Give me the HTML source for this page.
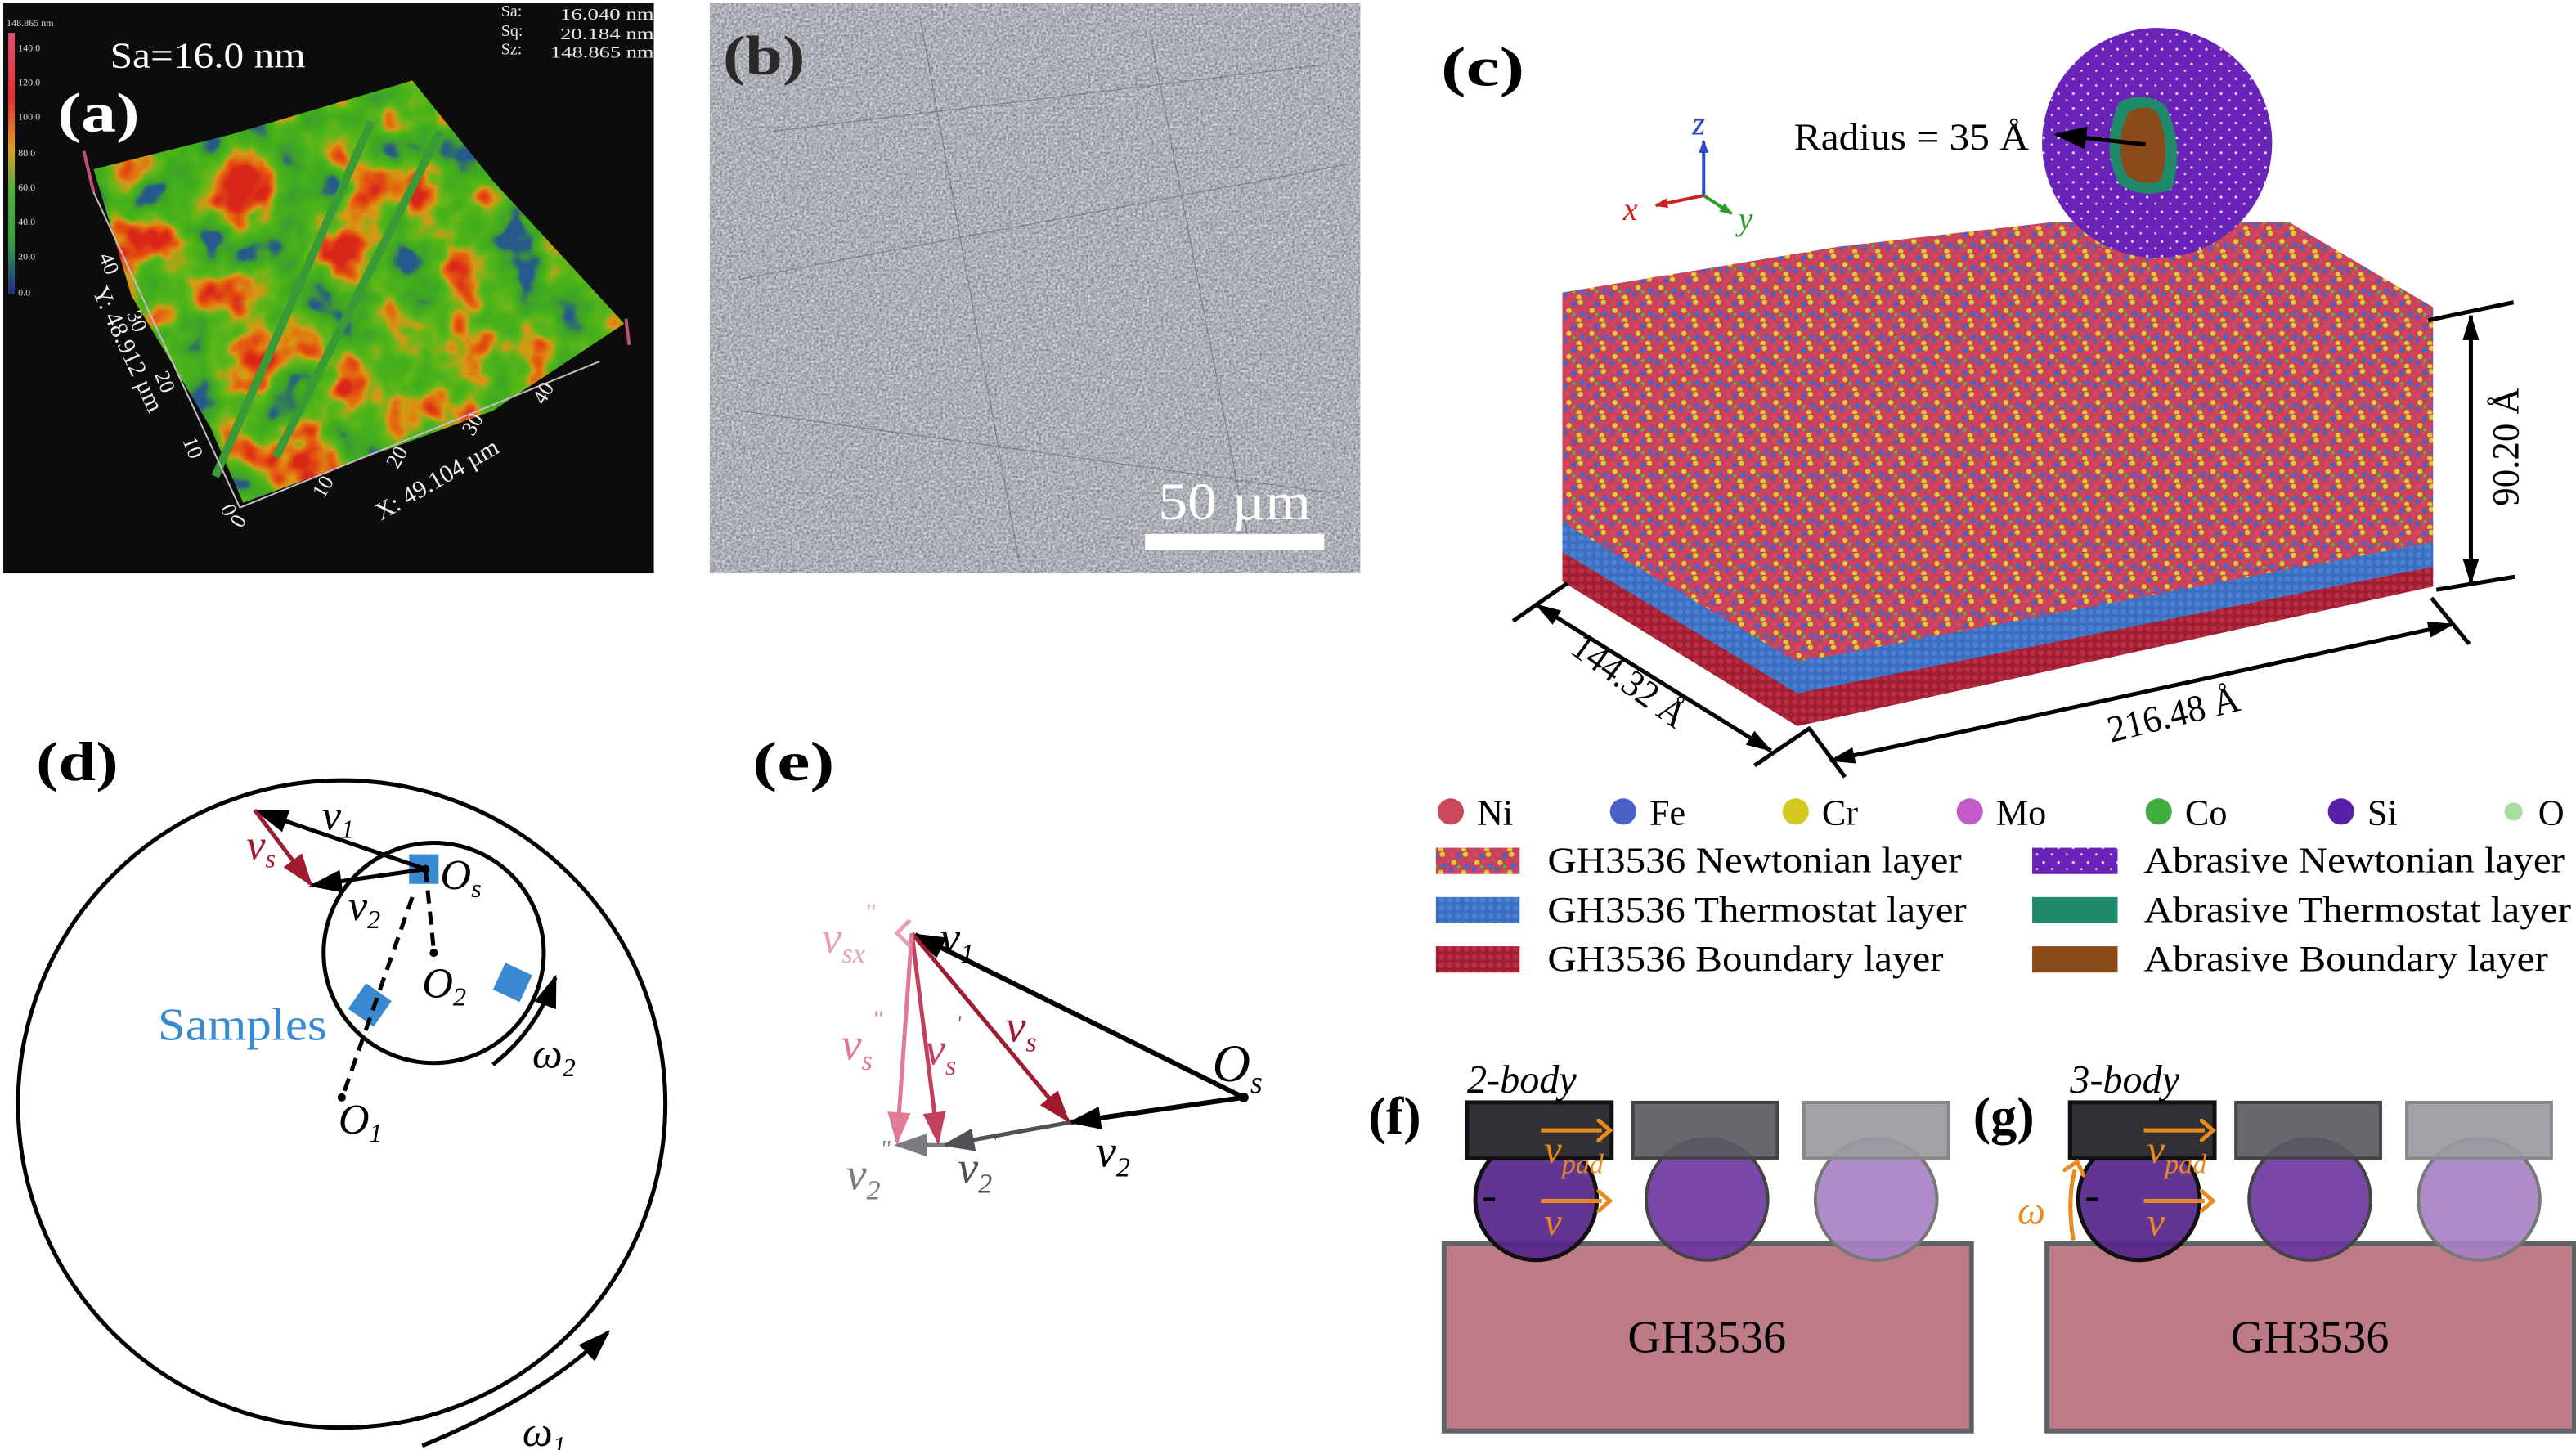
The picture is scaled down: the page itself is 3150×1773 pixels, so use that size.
<!DOCTYPE html>
<html><head><meta charset="utf-8"><style>
html,body{margin:0;padding:0;background:#fff;}
svg{display:block;}
text{font-family:"Liberation Serif",Times,"Times New Roman",serif;}
</style></head><body>
<svg width="3150" height="1773" viewBox="0 0 1568 882.6" preserveAspectRatio="none" xmlns="http://www.w3.org/2000/svg" font-family="Liberation Serif, serif">
<defs>
 <filter id="surf" x="0" y="0" width="1" height="1" color-interpolation-filters="sRGB">
  <feTurbulence type="fractalNoise" baseFrequency="0.03" numOctaves="3" seed="4" result="n"/>
  <feColorMatrix in="n" type="matrix" values="1 0 0 0 0 1 0 0 0 0 1 0 0 0 0 0 0 0 0 1" result="g"/>
  <feComponentTransfer in="g" result="g2">
   <feFuncR type="linear" slope="2.0" intercept="-0.5"/><feFuncG type="linear" slope="2.0" intercept="-0.5"/><feFuncB type="linear" slope="2.0" intercept="-0.5"/>
  </feComponentTransfer>
  <feComponentTransfer in="g2" result="c">
   <feFuncR type="table" tableValues="0.15 0.25 0.25 0.3 0.4 0.85 0.9 0.85"/>
   <feFuncG type="table" tableValues="0.35 0.62 0.68 0.7 0.72 0.6 0.35 0.15"/>
   <feFuncB type="table" tableValues="0.55 0.18 0.12 0.1 0.1 0.08 0.06 0.1"/>
  </feComponentTransfer>
  <feComposite in="c" in2="SourceGraphic" operator="in"/>
 </filter>
 <filter id="gray" x="0" y="0" width="1" height="1" color-interpolation-filters="sRGB">
  <feTurbulence type="fractalNoise" baseFrequency="0.7" numOctaves="2" seed="2" result="n"/>
  <feColorMatrix in="n" type="matrix" values="0.55 0 0 0 0.4  0.55 0 0 0 0.41  0.55 0 0 0 0.44  0 0 0 0 1" result="c"/>
  <feComposite in="c" in2="SourceGraphic" operator="in"/>
 </filter>
 <pattern id="atoms" patternUnits="userSpaceOnUse" width="14" height="14">
  <rect width="14" height="14" fill="#c8425c"/>
  <circle cx="2" cy="2" r="1.6" fill="#d24a62"/><circle cx="6" cy="3" r="1.6" fill="#4563c8"/>
  <circle cx="10" cy="2" r="1.6" fill="#d8cf34"/><circle cx="13" cy="5" r="1.6" fill="#cf4560"/>
  <circle cx="3" cy="7" r="1.6" fill="#d8cf34"/><circle cx="8" cy="7" r="1.6" fill="#cd4460"/>
  <circle cx="11" cy="9" r="1.6" fill="#4866cc"/><circle cx="1" cy="11" r="1.6" fill="#4563c8"/>
  <circle cx="5" cy="12" r="1.6" fill="#d04862"/><circle cx="9" cy="13" r="1.6" fill="#d6d035"/>
  <circle cx="13" cy="13" r="1.6" fill="#c94360"/><circle cx="6" cy="9.5" r="1.1" fill="#4cb848"/>
 </pattern>
 <pattern id="blueat" patternUnits="userSpaceOnUse" width="5" height="5">
  <rect width="5" height="5" fill="#3a6fc0"/><circle cx="2.5" cy="2.5" r="1.8" fill="#4a80d4"/>
 </pattern>
 <pattern id="redat" patternUnits="userSpaceOnUse" width="5" height="5">
  <rect width="5" height="5" fill="#9e1f34"/><circle cx="2.5" cy="2.5" r="1.8" fill="#be2c44"/>
 </pattern>
 <pattern id="purp" patternUnits="userSpaceOnUse" width="9" height="9">
  <rect width="9" height="9" fill="#6a23b8"/><circle cx="2" cy="3" r="0.8" fill="#e8e0f0"/><circle cx="7" cy="7" r="0.7" fill="#d8d0ea"/>
 </pattern>
 <marker id="ab" markerUnits="userSpaceOnUse" markerWidth="20" markerHeight="14" refX="18" refY="7" orient="auto"><path d="M0,0 L20,7 L0,14 Z" fill="#000"/></marker>
 <marker id="ar" markerUnits="userSpaceOnUse" markerWidth="20" markerHeight="14" refX="18" refY="7" orient="auto"><path d="M0,0 L20,7 L0,14 Z" fill="#a01a30"/></marker>
 <marker id="ap" markerUnits="userSpaceOnUse" markerWidth="20" markerHeight="14" refX="18" refY="7" orient="auto"><path d="M0,0 L20,7 L0,14 Z" fill="#e07a95"/></marker>
 <marker id="ap2" markerUnits="userSpaceOnUse" markerWidth="20" markerHeight="14" refX="18" refY="7" orient="auto"><path d="M0,0 L20,7 L0,14 Z" fill="#c2405e"/></marker>
 <marker id="ag" markerUnits="userSpaceOnUse" markerWidth="20" markerHeight="14" refX="18" refY="7" orient="auto"><path d="M0,0 L20,7 L0,14 Z" fill="#505055"/></marker>
 <marker id="ag2" markerUnits="userSpaceOnUse" markerWidth="20" markerHeight="14" refX="18" refY="7" orient="auto"><path d="M0,0 L20,7 L0,14 Z" fill="#7a7c82"/></marker>
 <marker id="dim" markerUnits="userSpaceOnUse" markerWidth="16" markerHeight="10" refX="15" refY="5" orient="auto-start-reverse"><path d="M0,0 L16,5 L0,10 Z" fill="#000"/></marker>
 <marker id="sm" markerUnits="userSpaceOnUse" markerWidth="8" markerHeight="6" refX="7" refY="3" orient="auto"><path d="M0,0 L8,3 L0,6 Z" fill="context-stroke"/></marker>
 <marker id="or" markerUnits="userSpaceOnUse" markerWidth="10" markerHeight="14" refX="3" refY="7" orient="auto"><path d="M0,0 L8,7 L0,14" fill="none" stroke="#e88a1c" stroke-width="2.5"/></marker>
 <linearGradient id="cbar" x1="0" y1="0" x2="0" y2="1">
  <stop offset="0" stop-color="#e05070"/><stop offset="0.25" stop-color="#e03030"/><stop offset="0.45" stop-color="#e0a020"/><stop offset="0.6" stop-color="#50b030"/><stop offset="0.8" stop-color="#30a040"/><stop offset="1" stop-color="#203090"/>
 </linearGradient>
</defs>

<!-- (a) -->
<rect x="2" y="2" width="396" height="347" fill="#0c0c0c"/>
<polygon points="57,103 140,82 251,49 300,110 380,197 300,250 148,306 128,260 80,180" fill="#fff" filter="url(#surf)"/>
<path d="M226,74 L131,290" stroke="#3a9a35" stroke-width="5"/>
<path d="M268,80 L168,278" stroke="#3a9a35" stroke-width="5"/>
<line x1="57" y1="117" x2="146" y2="309" stroke="#c8b8c8" stroke-width="1"/>
<line x1="146" y1="309" x2="365" y2="220" stroke="#c8b8c8" stroke-width="1"/>
<line x1="51" y1="92" x2="57" y2="117" stroke="#c05070" stroke-width="2"/>
<line x1="381" y1="194" x2="383" y2="210" stroke="#c05070" stroke-width="2"/>
<rect x="5" y="20" width="4" height="159" fill="url(#cbar)"/>
<g fill="#ddd" font-size="6">
<text x="4" y="16">148.865 nm</text><text x="11" y="31">140.0</text><text x="11" y="52">120.0</text><text x="11" y="73">100.0</text><text x="11" y="95">80.0</text><text x="11" y="116">60.0</text><text x="11" y="137">40.0</text><text x="11" y="158">20.0</text><text x="11" y="180">0.0</text>
</g>
<g fill="#e8e8e8" font-size="10">
<text x="305" y="10">Sa:</text><text x="341" y="12" textLength="57" lengthAdjust="spacingAndGlyphs">16.040 nm</text>
<text x="305" y="22">Sq:</text><text x="341" y="24" textLength="57" lengthAdjust="spacingAndGlyphs">20.184 nm</text>
<text x="305" y="33">Sz:</text><text x="335" y="35" textLength="63" lengthAdjust="spacingAndGlyphs">148.865 nm</text>
</g>
<text x="67" y="41" fill="#fff" font-size="22" textLength="119" lengthAdjust="spacingAndGlyphs">Sa=16.0 nm</text>
<text x="35" y="80" fill="#fff" font-size="34" font-weight="bold" textLength="50" lengthAdjust="spacingAndGlyphs">(a)</text>
<g fill="#eee" font-size="13">
<text transform="translate(60,156) rotate(68)">40</text><text transform="translate(77,191) rotate(68)">30</text><text transform="translate(94,228) rotate(68)">20</text><text transform="translate(111,268) rotate(68)">10</text><text transform="translate(134,309) rotate(68)">0</text>
<text transform="translate(56,177) rotate(65)" font-size="15">Y: 48.912 µm</text>
<text transform="translate(147,322) rotate(-60)">0</text><text transform="translate(197,304) rotate(-60)">10</text><text transform="translate(242,286) rotate(-60)">20</text><text transform="translate(288,266) rotate(-60)">30</text><text transform="translate(331,247) rotate(-60)">40</text>
<text transform="translate(232,317) rotate(-30)" font-size="15">X: 49.104 µm</text>
</g>

<!-- (b) -->
<rect x="432" y="2" width="396" height="347" fill="#fff" filter="url(#gray)"/>
<path d="M470,80 L800,40 M450,170 L820,100 M560,10 L620,340 M700,20 L760,330 M450,250 L810,300" stroke="#4a4f60" stroke-width="0.6" opacity="0.5"/>
<text x="440" y="45" fill="#2a2a2a" font-size="34" font-weight="bold" textLength="50" lengthAdjust="spacingAndGlyphs">(b)</text>
<text x="705" y="316" fill="#fff" font-size="32" textLength="93" lengthAdjust="spacingAndGlyphs">50 µm</text>
<rect x="697" y="325" width="109" height="10" fill="#fff"/>

<!-- (c) -->
<text x="877" y="52" font-size="34" font-weight="bold" textLength="51" lengthAdjust="spacingAndGlyphs">(c)</text>
<line x1="1037" y1="119" x2="1037" y2="86" stroke="#2a4bd0" stroke-width="2" marker-end="url(#sm)"/>
<line x1="1037" y1="119" x2="1008" y2="125" stroke="#d02020" stroke-width="2" marker-end="url(#sm)"/>
<line x1="1037" y1="119" x2="1054" y2="130" stroke="#2a9a2a" stroke-width="2" marker-end="url(#sm)"/>
<text x="1030" y="82" fill="#2a4bd0" font-size="20" font-style="italic">z</text>
<text x="988" y="134" fill="#d02020" font-size="20" font-style="italic">x</text>
<text x="1058" y="140" fill="#2a9a2a" font-size="20" font-style="italic">y</text>

<polygon points="951,178 1120,150 1251,135 1393,135 1481,187 1481,357 1094,441 951,353" fill="url(#atoms)"/>
<polygon points="951,318 1094,403 1481,330 1481,345 1094,422 951,336" fill="url(#blueat)"/>
<polygon points="951,336 1094,422 1481,345 1481,357 1094,442 951,354" fill="url(#redat)"/>

<circle cx="1313" cy="87" r="70" fill="url(#purp)"/>
<path d="M1290,62 Q1305,55 1318,64 Q1330,90 1322,115 Q1305,122 1290,112 Q1278,90 1290,62 Z" fill="#1f8a6a"/>
<path d="M1296,68 Q1308,62 1314,70 Q1322,92 1315,110 Q1302,114 1294,106 Q1286,88 1296,68 Z" fill="#8a4a1a"/>
<line x1="1306" y1="88" x2="1252" y2="82" stroke="#000" stroke-width="2.5" marker-end="url(#ab)"/>
<text x="1092" y="91" font-size="23" textLength="143" lengthAdjust="spacingAndGlyphs">Radius = 35 Å</text>

<!-- dims -->
<line x1="1478" y1="195" x2="1530" y2="184" stroke="#000" stroke-width="2.5"/>
<line x1="1483" y1="359" x2="1531" y2="351" stroke="#000" stroke-width="2.5"/>
<line x1="1504" y1="192" x2="1504" y2="355" stroke="#000" stroke-width="2.5" marker-start="url(#dim)" marker-end="url(#dim)"/>
<text transform="translate(1533,308) rotate(-90)" font-size="23" textLength="72" lengthAdjust="spacingAndGlyphs">90.20 Å</text>
<line x1="921" y1="378" x2="954" y2="355" stroke="#000" stroke-width="2.5"/>
<line x1="1068" y1="466" x2="1102" y2="443" stroke="#000" stroke-width="2.5"/>
<line x1="1101" y1="443" x2="1123" y2="473" stroke="#000" stroke-width="2.5"/>
<line x1="1480" y1="364" x2="1503" y2="392" stroke="#000" stroke-width="2.5"/>
<line x1="935" y1="368" x2="1078" y2="457" stroke="#000" stroke-width="2.5" marker-start="url(#dim)" marker-end="url(#dim)"/>
<line x1="1114" y1="463" x2="1493" y2="380" stroke="#000" stroke-width="2.5" marker-start="url(#dim)" marker-end="url(#dim)"/>
<text transform="translate(955,397) rotate(36)" font-size="23" textLength="80" lengthAdjust="spacingAndGlyphs">144.32 Å</text>
<text transform="translate(1285,452) rotate(-14)" font-size="23" textLength="82" lengthAdjust="spacingAndGlyphs">216.48 Å</text>

<!-- legend -->
<g font-size="22">
<circle cx="883" cy="494" r="8" fill="#c84a5a"/><text x="899" y="502">Ni</text>
<circle cx="988" cy="494" r="8" fill="#4a62c8"/><text x="1004" y="502">Fe</text>
<circle cx="1093" cy="494" r="8" fill="#d2c81e"/><text x="1109" y="502">Cr</text>
<circle cx="1199" cy="494" r="8" fill="#c25ac8"/><text x="1215" y="502">Mo</text>
<circle cx="1314" cy="494" r="8" fill="#3fae3f"/><text x="1330" y="502">Co</text>
<circle cx="1425" cy="494" r="8" fill="#5a1fa8"/><text x="1441" y="502">Si</text>
<circle cx="1530" cy="494" r="5.5" fill="#a8dca0"/><text x="1545" y="502">O</text>
<rect x="874" y="516" width="51" height="16" fill="url(#atoms)"/><text x="942" y="531" textLength="252" lengthAdjust="spacingAndGlyphs">GH3536 Newtonian layer</text>
<rect x="874" y="546" width="51" height="16" fill="url(#blueat)"/><text x="942" y="561" textLength="255" lengthAdjust="spacingAndGlyphs">GH3536 Thermostat layer</text>
<rect x="874" y="576" width="51" height="16" fill="url(#redat)"/><text x="942" y="591" textLength="241" lengthAdjust="spacingAndGlyphs">GH3536 Boundary layer</text>
<rect x="1237" y="516" width="52" height="16" fill="url(#purp)"/><text x="1305" y="531" textLength="256" lengthAdjust="spacingAndGlyphs">Abrasive Newtonian layer</text>
<rect x="1237" y="546" width="52" height="16" fill="#1f8a6a"/><text x="1305" y="561" textLength="260" lengthAdjust="spacingAndGlyphs">Abrasive Thermostat layer</text>
<rect x="1237" y="576" width="52" height="16" fill="#8a4a1a"/><text x="1305" y="591" textLength="246" lengthAdjust="spacingAndGlyphs">Abrasive Boundary layer</text>
</g>

<!-- (d) -->
<text x="22" y="475" font-size="34" font-weight="bold" textLength="50" lengthAdjust="spacingAndGlyphs">(d)</text>
<circle cx="208" cy="672" r="197" fill="none" stroke="#000" stroke-width="2.5"/>
<circle cx="264" cy="580" r="67" fill="none" stroke="#000" stroke-width="2.5"/>
<rect x="249" y="520" width="18" height="18" fill="#3a8ad2"/>
<rect x="216" y="602" width="19" height="19" fill="#3a8ad2" transform="rotate(35 225 611)"/>
<rect x="303" y="589" width="18" height="18" fill="#3a8ad2" transform="rotate(25 312 598)"/>
<line x1="259" y1="529" x2="264" y2="578" stroke="#000" stroke-width="2.5" stroke-dasharray="8,5"/>
<line x1="251" y1="546" x2="209" y2="666" stroke="#000" stroke-width="2.5" stroke-dasharray="8,5"/>
<circle cx="259" cy="529" r="2.5"/><circle cx="264" cy="580" r="2.5"/><circle cx="208" cy="668" r="2.5"/>
<line x1="259" y1="529" x2="157" y2="494" stroke="#000" stroke-width="2.5" marker-end="url(#ab)"/>
<line x1="259" y1="529" x2="190" y2="539" stroke="#000" stroke-width="2.5" marker-end="url(#ab)"/>
<line x1="155" y1="493" x2="189" y2="538" stroke="#a01a30" stroke-width="2.5" marker-end="url(#ar)"/>
<g font-size="26" font-style="italic">
<text x="196" y="505">v<tspan font-size="16" dy="5">1</tspan></text>
<text x="212" y="560">v<tspan font-size="16" dy="5">2</tspan></text>
<text x="150" y="523" fill="#a01a30">v<tspan font-size="16" dy="5">s</tspan></text>
<text x="268" y="541">O<tspan font-size="16" dy="5">s</tspan></text>
<text x="257" y="607">O<tspan font-size="16" dy="5">2</tspan></text>
<text x="206" y="690">O<tspan font-size="16" dy="5">1</tspan></text>
<text x="324" y="650">ω<tspan font-size="16" dy="5">2</tspan></text>
<text x="318" y="880">ω<tspan font-size="16" dy="5">1</tspan></text>
</g>
<text x="96" y="633" font-size="28" fill="#3a8ad2" textLength="103" lengthAdjust="spacingAndGlyphs">Samples</text>
<path d="M300,648 Q326,628 338,595" fill="none" stroke="#000" stroke-width="2.5" marker-end="url(#ab)"/>
<path d="M257,880 Q330,850 370,811" fill="none" stroke="#000" stroke-width="2.5" marker-end="url(#ab)"/>

<!-- (e) -->
<text x="458" y="475" font-size="34" font-weight="bold" textLength="50" lengthAdjust="spacingAndGlyphs">(e)</text>
<line x1="757" y1="668" x2="557" y2="569" stroke="#000" stroke-width="3" marker-end="url(#ab)"/>
<line x1="757" y1="668" x2="652" y2="683" stroke="#000" stroke-width="3" marker-end="url(#ab)"/>
<circle cx="757" cy="668" r="3"/>
<line x1="652" y1="683" x2="575" y2="697" stroke="#505055" stroke-width="2.5" marker-end="url(#ag)"/>
<line x1="575" y1="697" x2="546" y2="697" stroke="#7a7c82" stroke-width="2.5" marker-end="url(#ag2)"/>
<line x1="555" y1="568" x2="650" y2="682" stroke="#a01a30" stroke-width="2.5" marker-end="url(#ar)"/>
<line x1="555" y1="568" x2="571" y2="695" stroke="#c2405e" stroke-width="2.5" marker-end="url(#ap2)"/>
<line x1="555" y1="568" x2="546" y2="695" stroke="#e07a95" stroke-width="2.5" marker-end="url(#ap)"/>
<path d="M554,560 L546,568 L554,576" fill="none" stroke="#eaa0b4" stroke-width="2.5"/>
<g font-size="28" font-style="italic">
<text x="572" y="580">v<tspan font-size="17" dy="6">1</tspan></text>
<text x="612" y="634" fill="#a01a30">v<tspan font-size="17" dy="6">s</tspan></text>
<text x="563" y="648" fill="#c2405e">v<tspan font-size="17" dy="6">s</tspan><tspan font-size="14" dy="-26">'</tspan></text>
<text x="512" y="645" fill="#e07a95">v<tspan font-size="17" dy="6">s</tspan><tspan font-size="14" dy="-26">''</tspan></text>
<text x="500" y="580" fill="#eaa0b4">v<tspan font-size="17" dy="6">sx</tspan><tspan font-size="14" dy="-26">''</tspan></text>
<text x="738" y="658" font-size="32">O<tspan font-size="19" dy="7">s</tspan></text>
<text x="667" y="710">v<tspan font-size="17" dy="6">2</tspan></text>
<text x="583" y="720" fill="#505055">v<tspan font-size="17" dy="6">2</tspan><tspan font-size="14" dy="-26">'</tspan></text>
<text x="515" y="724" fill="#7a7c82">v<tspan font-size="17" dy="6">2</tspan><tspan font-size="14" dy="-26">''</tspan></text>
</g>

<!-- (f) & (g) -->
<g id="fg">
<rect x="879" y="757" width="321" height="114" fill="#bd7b88" stroke="#5f6368" stroke-width="3"/>
<circle cx="935" cy="730" r="37" fill="#55248a" fill-opacity="0.92" stroke="#111" stroke-width="2.5"/>
<circle cx="1039" cy="730" r="37" fill="#6a34a0" fill-opacity="0.9" stroke="#444" stroke-width="2"/>
<circle cx="1142" cy="730" r="37" fill="#a580c4" fill-opacity="0.9" stroke="#777" stroke-width="2"/>
<rect x="893" y="671" width="88" height="34" fill="#303035" stroke="#111" stroke-width="2.5"/>
<rect x="994" y="671" width="88" height="34" fill="#5a5b62" fill-opacity="0.92" stroke="#444" stroke-width="2"/>
<rect x="1098" y="671" width="88" height="34" fill="#9a9ba0" fill-opacity="0.92" stroke="#888" stroke-width="2"/>
<line x1="903" y1="730" x2="910" y2="730" stroke="#000" stroke-width="2"/>
<line x1="938" y1="688" x2="975" y2="688" stroke="#e88a1c" stroke-width="2.5" marker-end="url(#or)"/>
<line x1="938" y1="731" x2="975" y2="731" stroke="#e88a1c" stroke-width="2.5" marker-end="url(#or)"/>
<text x="940" y="708" fill="#e88a1c" font-size="24" font-style="italic">v<tspan font-size="17" dy="6">pad</tspan></text>
<text x="940" y="752" fill="#e88a1c" font-size="24" font-style="italic">v</text>
<text x="1039" y="823" font-size="28" text-anchor="middle">GH3536</text>
</g>
<use href="#fg" transform="translate(367,0)"/>
<text x="833" y="690" font-size="32" font-weight="bold">(f)</text>
<text x="893" y="665" font-size="24" font-style="italic">2-body</text>
<text x="1201" y="690" font-size="32" font-weight="bold">(g)</text>
<text x="1260" y="665" font-size="24" font-style="italic">3-body</text>
<path d="M1262,755 Q1258,730 1263,712" fill="none" stroke="#e88a1c" stroke-width="2.5" marker-end="url(#or)"/>
<text x="1228" y="745" fill="#e88a1c" font-size="24" font-style="italic">ω</text>
</svg>
</body></html>
